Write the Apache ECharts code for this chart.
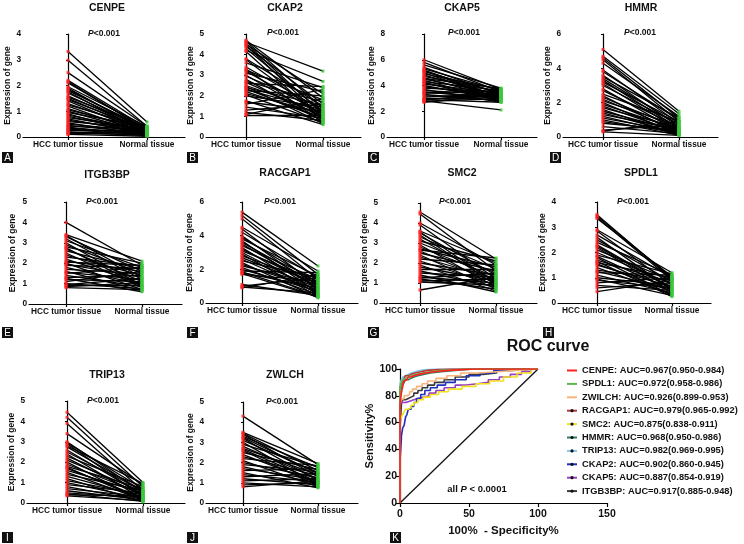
<!DOCTYPE html>
<html><head><meta charset="utf-8">
<script src="https://cdn.jsdelivr.net/npm/echarts@6/dist/echarts.min.js"></script>
<style>html,body{margin:0;padding:0;background:#fff}#c{width:744px;height:544px}</style>
</head><body><div id="c"></div>
<script>
const FONT = '"Liberation Sans", Arial, sans-serif';
const categories = ['HCC tumor tissue', 'Normal tissue'];

// ---- paired expression data (tumor -> normal) ----
const CENPE_tumor = [3.32,2.98,2.50,2.20,2.15,2.10,1.95,1.90,1.85,1.80,1.75,1.70,1.60,1.55,1.50,1.45,1.40,1.30,1.25,1.20,1.10,1.05,1.00,0.95,0.90,0.85,0.80,0.75,0.70,0.65,0.60,0.55,0.50,0.45,0.42,0.38,0.35,0.30,0.28,0.25,0.20,0.18,0.15,0.12,0.10];
const CENPE_normal = [0.58,0.42,0.42,0.35,0.25,0.30,0.40,0.20,0.28,0.35,0.15,0.30,0.25,0.38,0.20,0.30,0.12,0.25,0.35,0.10,0.20,0.30,0.15,0.40,0.05,0.25,0.18,0.30,0.10,0.20,0.35,0.08,0.22,0.15,0.30,0.05,0.12,0.20,0.10,0.25,0.05,0.15,0.08,0.18,0.03];
const CKAP2_tumor = [4.70,4.65,4.60,4.55,4.50,4.45,4.40,4.30,4.20,4.15,3.80,3.75,3.60,3.40,3.30,3.25,3.20,3.10,3.00,2.95,2.80,2.70,2.65,2.60,2.50,2.45,2.40,2.35,2.30,2.25,2.20,2.10,2.05,2.00,1.75,1.70,1.60,1.45,1.30,1.20,1.10,1.05];
const CKAP2_normal = [1.90,1.40,3.20,1.10,2.10,0.90,1.60,1.20,2.70,0.80,1.50,1.00,2.40,1.30,0.70,1.80,1.10,2.20,0.90,1.40,0.75,1.70,1.00,2.45,1.20,0.65,1.55,0.85,1.30,2.00,0.95,1.15,0.70,1.45,0.60,1.25,2.30,0.90,1.60,0.80,1.85,1.05];
const CKAP5_tumor = [6.0,5.8,5.6,5.4,5.3,5.2,5.1,5.0,4.9,4.8,4.7,4.6,4.5,4.4,4.3,4.2,4.1,4.0,3.9,3.8,3.7,3.6,3.5,3.4,3.3,3.2,3.1,3.0,2.95,2.9,2.85,2.8,2.75,2.7,4.55,5.15,3.45,4.25];
const CKAP5_normal = [3.7,3.5,3.8,3.3,3.6,3.1,3.4,2.9,3.7,3.2,3.5,3.0,3.3,2.8,3.6,3.1,3.4,2.9,3.2,3.5,2.7,3.3,3.0,3.6,2.8,3.1,3.4,2.9,3.2,2.7,3.5,2.1,3.0,3.3,3.75,2.95,3.15,2.75];
const HMMR_tumor = [5.1,4.7,4.6,4.5,4.3,3.9,3.8,3.6,3.5,3.4,3.3,3.2,3.1,3.0,2.8,2.7,2.5,2.4,2.3,2.2,2.1,2.0,1.9,1.8,1.7,1.6,1.5,1.4,1.3,1.2,1.1,1.0,0.9,0.8,0.6,0.4,0.35,0.3];
const HMMR_normal = [1.5,1.35,1.1,0.9,1.2,0.8,1.0,0.6,1.1,0.7,0.5,0.9,0.4,0.75,0.3,0.6,0.9,0.2,0.5,0.35,0.65,0.15,0.45,0.25,0.55,0.1,0.35,0.2,0.45,0.15,0.3,0.1,0.25,0.4,0.2,0.7,0.9,0.1];
const ITGB3BP_tumor = [4.0,3.4,3.3,3.2,3.1,3.0,2.9,2.8,2.7,2.6,2.5,2.4,2.3,2.2,2.1,2.0,1.95,1.9,1.8,1.7,1.6,1.55,1.5,1.4,1.3,1.25,1.2,1.1,1.0,0.95,0.9,0.85,0.8,3.35,2.75,2.05];
const ITGB3BP_normal = [1.9,2.1,1.6,1.2,1.8,0.9,1.5,2.0,1.1,1.7,0.8,1.4,1.85,1.0,1.6,0.7,1.3,1.75,0.95,1.5,0.65,1.2,1.8,0.85,1.4,0.6,1.1,1.6,0.75,1.25,0.9,1.05,0.7,1.3,0.85,1.9];
const RACGAP1_tumor = [5.4,5.2,5.0,4.5,4.4,4.2,4.0,3.9,3.8,3.7,3.6,3.5,3.4,3.3,3.2,3.1,3.0,2.9,2.8,2.7,2.6,2.5,2.4,2.3,2.2,2.1,2.0,1.9,1.85,1.8,1.75,1.7,1.1,1.0,0.95,0.9];
const RACGAP1_normal = [2.2,1.7,1.4,1.9,1.0,1.5,0.8,1.2,1.6,0.6,1.1,0.9,1.4,0.5,1.0,1.3,0.7,0.4,1.2,0.9,0.6,1.5,0.3,0.8,1.1,0.5,0.7,1.8,0.4,0.9,0.35,1.3,0.45,1.5,0.6,1.7];
const SMC2_tumor = [4.55,4.45,4.0,3.9,3.6,3.5,3.4,3.3,3.2,3.1,3.0,2.9,2.8,2.7,2.6,2.5,2.4,2.3,2.2,2.1,2.0,1.9,1.8,1.7,1.6,1.5,1.4,1.3,1.25,1.2,1.1,1.05,0.65,3.55,2.65];
const SMC2_normal = [2.2,1.6,1.9,1.2,2.0,1.4,0.9,1.7,1.1,2.1,1.5,0.8,1.3,1.8,1.0,1.6,0.7,1.2,1.9,0.9,1.4,0.6,1.1,1.7,0.8,1.3,0.55,1.0,1.5,0.7,1.2,0.9,1.3,1.0,2.25];
const SPDL1_tumor = [3.5,3.45,3.4,3.35,2.9,2.85,2.7,2.6,2.5,2.4,2.3,2.2,2.1,2.0,1.9,1.85,1.8,1.7,1.6,1.55,1.5,1.4,1.3,1.25,1.2,1.1,1.0,0.95,0.9,0.8,0.7,0.6,0.45,1.65,2.25];
const SPDL1_normal = [0.95,1.0,0.9,1.05,1.2,0.7,1.0,0.5,0.85,1.1,0.6,0.4,0.9,0.75,1.15,0.5,0.3,0.8,1.0,0.45,0.65,0.35,0.9,0.55,1.1,0.4,0.7,0.3,0.6,1.0,0.5,0.8,0.9,0.25,0.55];
const TRIP13_tumor = [4.45,4.2,3.9,3.4,3.0,2.95,2.9,2.8,2.6,2.5,2.4,2.3,2.2,2.1,2.0,1.9,1.8,1.7,1.6,1.5,1.4,1.3,1.2,1.1,1.0,0.9,0.8,0.7,0.6,0.5,0.45,0.4,0.35,2.75,1.75];
const TRIP13_normal = [1.0,0.8,0.6,0.9,0.5,0.7,0.3,0.95,0.4,0.6,0.2,0.8,0.35,0.55,0.1,0.45,0.7,0.25,0.5,0.15,0.6,0.3,0.05,0.4,0.2,0.5,0.1,0.3,0.15,0.25,0.08,0.35,0.12,0.6,0.15];
const ZWLCH_tumor = [4.3,3.5,3.45,3.4,3.3,3.2,3.1,3.0,2.9,2.8,2.7,2.6,2.5,2.4,2.3,2.2,2.1,2.0,1.9,1.8,1.7,1.6,1.5,1.4,1.3,1.2,1.1,1.0,0.9,0.8,3.25,2.65];
const ZWLCH_normal = [1.9,1.95,1.6,1.3,1.75,1.1,1.5,0.9,1.8,1.2,1.4,0.85,1.65,1.0,1.35,1.85,0.8,1.25,1.55,0.95,1.15,1.7,0.75,1.05,1.45,0.9,1.2,0.8,1.0,1.1,1.45,1.05];

// ---- ROC curves (100% - specificity %, sensitivity %) ----
const rocNames = ['CENPE','SPDL1','ZWILCH','RACGAP1','SMC2','HMMR','TRIP13','CKAP2','CKAP5','ITGB3BP'];
const rocAUC = ['AUC=0.967(0.950-0.984)','AUC=0.972(0.958-0.986)','AUC=0.926(0.899-0.953)','AUC=0.979(0.965-0.992)','AUC=0.875(0.838-0.911)','AUC=0.968(0.950-0.986)','AUC=0.982(0.969-0.995)','AUC=0.902(0.860-0.945)','AUC=0.887(0.854-0.919)','AUC=0.917(0.885-0.948)'];
const CENPE_fpr = [0,0,1,1,2,2,3,4,5,6,8,10,14,18,25,35,45,55,100];
const CENPE_tpr = [0,74,74,82,82,87,89,91,92,93,94,95,96,97,98,99,99.5,100,100];
const SPDL1_fpr = [0,0,0.5,1,2,3,4,6,8,12,16,22,30,40,55,100];
const SPDL1_tpr = [0,82,86,88,90,92,93,94,95,96,97,98,99,99.5,100,100];
const ZWILCH_fpr = [0,0,1,2,3,5,7,9,12,16,20,26,34,44,56,70,85,100];
const ZWILCH_tpr = [0,68,74,77,78,80,81,83,85,87,89,91,93,95,97,98,99,100];
const RACGAP1_fpr = [0,0,1,2,3,4,6,8,11,15,20,28,38,100];
const RACGAP1_tpr = [0,80,86,89,91,93,95,96,97,98,99,99.5,100,100];
const SMC2_fpr = [0,0,1,2,3,4,6,8,10,13,17,22,28,35,45,55,65,75,85,95,100];
const SMC2_tpr = [0,58,62,64,66,68,70,71,73,75,77,79,81,83,85,87,89,91,94,97,100];
const HMMR_fpr = [0,0,1,2,3,4,6,8,10,13,17,22,30,40,52,100];
const HMMR_tpr = [0,78,83,86,88,90,92,93,94,95,96,97,98,99,100,100];
const TRIP13_fpr = [0,0,1,2,3,4,6,8,11,15,20,28,100];
const TRIP13_tpr = [0,84,89,92,94,95,96,97,98,99,99.5,100,100];
const CKAP2_fpr = [0,0,1,1,2,3,4,5,6,8,10,12,15,18,22,27,33,40,48,58,68,80,100];
const CKAP2_tpr = [0,31,31,48,50,56,58,64,66,70,72,75,78,81,84,86,88,90,92,95,97,99,100];
const CKAP5_fpr = [0,0,2,4,7,10,13,17,21,26,32,40,48,56,64,72,80,88,95,100];
const CKAP5_tpr = [0,74,75,75,76,77,78,79,80,82,84,86,88,89,90,92,94,96,98,100];
const ITGB3BP_fpr = [0,0,1,1,2,4,6,8,10,13,16,20,25,32,40,50,60,70,80,100];
const ITGB3BP_tpr = [0,56,56,73,75,77,78,79,80,82,84,86,88,90,92,94,96,97,99,100];
const rocTicksX = [0, 50, 100, 150];
const rocTicksY = [0, 20, 40, 60, 80, 100];

// ---- layout (pixels) ----
const panels = [
  {gene:'CENPE',   t:CENPE_tumor,   n:CENPE_normal,   yMax:4, yStep:1, L:23, R:185, T:34,  B:137, hx:68,  nx:147, tx:107, ty:8,   px:104, py:34,  bx:2,   by:152, letter:'A', nameX:13},
  {gene:'CKAP2',   t:CKAP2_tumor,   n:CKAP2_normal,   yMax:5, yStep:1, L:206,R:361, T:34,  B:137, hx:246, nx:323, tx:285, ty:8,   px:283, py:33,  bx:187, by:152, letter:'B', nameX:191},
  {gene:'CKAP5',   t:CKAP5_tumor,   n:CKAP5_normal,   yMax:8, yStep:2, L:387,R:537, T:34,  B:137, hx:424, nx:501, tx:462, ty:8,   px:464, py:33,  bx:368, by:152, letter:'C', nameX:372},
  {gene:'HMMR',    t:HMMR_tumor,    n:HMMR_normal,    yMax:6, yStep:2, L:563,R:718, T:34,  B:137, hx:603, nx:679, tx:641, ty:8,   px:640, py:33,  bx:550, by:152, letter:'D', nameX:549},
  {gene:'ITGB3BP', t:ITGB3BP_tumor, n:ITGB3BP_normal, yMax:5, yStep:1, L:29, R:182, T:202, B:304, hx:66,  nx:142, tx:107, ty:175, px:102, py:202, bx:2,   by:327, letter:'E', nameX:13},
  {gene:'RACGAP1', t:RACGAP1_tumor, n:RACGAP1_normal, yMax:6, yStep:2, L:206,R:358, T:202, B:303, hx:242, nx:318, tx:285, ty:173, px:280, py:202, bx:187, by:327, letter:'F', nameX:190},
  {gene:'SMC2',    t:SMC2_tumor,    n:SMC2_normal,    yMax:5, yStep:1, L:380,R:537, T:203, B:303, hx:420, nx:496, tx:462, ty:173, px:455, py:202, bx:368, by:327, letter:'G', nameX:367},
  {gene:'SPDL1',   t:SPDL1_tumor,   n:SPDL1_normal,   yMax:4, yStep:1, L:558,R:711, T:202, B:303, hx:597, nx:672, tx:641, ty:173, px:633, py:202, bx:543, by:327, letter:'H', nameX:544},
  {gene:'TRIP13',  t:TRIP13_tumor,  n:TRIP13_normal,  yMax:5, yStep:1, L:27, R:185, T:401, B:503, hx:67,  nx:143, tx:107, ty:375, px:103, py:401, bx:2,   by:532, letter:'I', nameX:13},
  {gene:'ZWLCH',   t:ZWLCH_tumor,   n:ZWLCH_normal,   yMax:5, yStep:1, L:206,R:358, T:402, B:503, hx:243, nx:318, tx:285, ty:375, px:282, py:402, bx:187, by:532, letter:'J', nameX:191}
];
const roc = {L:400, R:607, T:369, B:503};
const rocColors = ['#ff2020','#5cb84a','#f8b47a','#b83838','#f2e21e','#2f7f5f','#82c8ee','#1f2fc0','#9a3fc2','#3a3a3a'];
const rocDot = [false,false,false,true,true,true,true,true,true,true];
const rocData = {CENPE:[CENPE_fpr,CENPE_tpr],SPDL1:[SPDL1_fpr,SPDL1_tpr],ZWILCH:[ZWILCH_fpr,ZWILCH_tpr],RACGAP1:[RACGAP1_fpr,RACGAP1_tpr],SMC2:[SMC2_fpr,SMC2_tpr],HMMR:[HMMR_fpr,HMMR_tpr],TRIP13:[TRIP13_fpr,TRIP13_tpr],CKAP2:[CKAP2_fpr,CKAP2_tpr],CKAP5:[CKAP5_fpr,CKAP5_tpr],ITGB3BP:[ITGB3BP_fpr,ITGB3BP_tpr]};

const grid = [], xAxis = [], yAxis = [], series = [], graphic = [];
const axisLineStyle = {color:'#000', width:1.2};
const smallFont = {fontFamily:FONT, fontWeight:'bold', fontSize:8.3, color:'#111'};

panels.forEach((p, i) => {
  grid.push({left:p.L, top:p.T, width:p.R - p.L, height:p.B - p.T, containLabel:false});
  const unit = p.nx - p.hx;
  xAxis.push({
    gridIndex:i, type:'value', min:-(p.hx - p.L) / unit, max:1 + (p.R - p.nx) / unit,
    axisLine:{show:true, onZero:false, lineStyle:axisLineStyle},
    axisTick:{show:true, customValues:[0,1], length:3, lineStyle:axisLineStyle},
    axisLabel:{show:true, customValues:[0,1], margin:4, ...smallFont, formatter:v => categories[Math.round(v)]},
    splitLine:{show:false}
  });
  yAxis.push({
    gridIndex:i, type:'value', min:0, max:p.yMax, interval:p.yStep,
    name:'Expression of gene', nameLocation:'middle', nameRotate:90, nameGap:(p.L - p.nameX) - 4,
    nameTextStyle:{...smallFont, fontSize:8.5},
    axisLine:{show:true, lineStyle:axisLineStyle},
    axisTick:{show:true, length:2, lineStyle:axisLineStyle},
    axisLabel:{margin:2, ...smallFont},
    splitLine:{show:false}
  });
  series.push({
    type:'lines', coordinateSystem:'cartesian2d', xAxisIndex:i, yAxisIndex:i, silent:true,
    lineStyle:{color:'#000', width:1.3, opacity:1}, z:2,
    data:p.t.map((v, k) => ({coords:[[0, v], [1, p.n[k]]]}))
  });
  series.push({
    type:'scatter', xAxisIndex:i, yAxisIndex:i, silent:true, symbol:'rect', symbolSize:3, z:3,
    itemStyle:{color:'#ff2020'}, data:p.t.map(v => [0, v])
  });
  series.push({
    type:'scatter', xAxisIndex:i, yAxisIndex:i, silent:true, symbol:'rect', symbolSize:3, z:3,
    itemStyle:{color:'#3cc83c'}, data:p.n.map(v => [1, v])
  });
  graphic.push({type:'text', x:p.tx, y:p.ty, style:{text:p.gene, align:'center', verticalAlign:'middle', font:`bold 10.5px ${FONT}`, fill:'#111'}});
  graphic.push({type:'text', x:p.px, y:p.py, style:{text:'{i|P}{n|<0.001}', align:'center', verticalAlign:'middle',
    rich:{i:{fontFamily:FONT, fontWeight:'bold', fontStyle:'italic', fontSize:8.5, fill:'#111'}, n:{fontFamily:FONT, fontWeight:'bold', fontSize:8.5, fill:'#111'}}}});
  graphic.push({type:'rect', shape:{x:p.bx, y:p.by, width:11, height:11}, style:{fill:'#111'}});
  graphic.push({type:'text', x:p.bx + 5.5, y:p.by + 6, style:{text:p.letter, align:'center', verticalAlign:'middle', font:`10px ${FONT}`, fill:'#fff'}});
});

// ROC panel
const ri = panels.length;
grid.push({left:roc.L, top:roc.T, width:roc.R - roc.L, height:roc.B - roc.T, containLabel:false});
const rocFont = {fontFamily:FONT, fontWeight:'bold', fontSize:10.5, color:'#111'};
xAxis.push({gridIndex:ri, type:'value', min:rocTicksX[0], max:rocTicksX[rocTicksX.length-1], interval:50,
  name:'100%  - Specificity%', nameLocation:'middle', nameGap:22, nameTextStyle:{fontFamily:FONT, fontWeight:'bold', fontSize:11.5, color:'#111'},
  axisLine:{lineStyle:axisLineStyle}, axisTick:{length:4, lineStyle:axisLineStyle}, axisLabel:{margin:6, ...rocFont}, splitLine:{show:false}});
yAxis.push({gridIndex:ri, type:'value', min:rocTicksY[0], max:rocTicksY[rocTicksY.length-1], interval:20,
  name:'Sensitivity%', nameLocation:'middle', nameRotate:90, nameGap:21, nameTextStyle:{fontFamily:FONT, fontWeight:'bold', fontSize:11, color:'#111'},
  axisLine:{lineStyle:axisLineStyle}, axisTick:{length:4, lineStyle:axisLineStyle}, axisLabel:{margin:3, ...rocFont}, splitLine:{show:false}});
series.push({type:'line', name:'ref', xAxisIndex:ri, yAxisIndex:ri, data:[[0,0],[100,100]], showSymbol:false, symbol:'none', silent:true,
  lineStyle:{color:'#111', width:1.3}, z:2});
const legendData = [];
rocNames.forEach((nm, k) => {
  const [fx, ty] = rocData[nm];
  const label = nm + ': ' + rocAUC[k];
  series.push({type:'line', name:label, xAxisIndex:ri, yAxisIndex:ri, step:'start', showSymbol:false,
    symbol:rocDot[k] ? 'circle' : 'none', silent:true, z:3 + (9 - k),
    lineStyle:{color:rocColors[k], width:1.6}, itemStyle:{color:rocColors[k]},
    data:fx.map((x, j) => [x, ty[j]])});
  legendData.push({name:label, itemStyle: rocDot[k] ? {color:'#111', borderWidth:0} : {color:'rgba(0,0,0,0)', borderWidth:0}, lineStyle:{color:rocColors[k], width:2}});
});
graphic.push({type:'text', x:548, y:347, style:{text:'ROC curve', align:'center', verticalAlign:'middle', font:`bold 16px ${FONT}`, fill:'#111'}});
graphic.push({type:'text', x:477, y:489, style:{text:'{n|all }{i|P}{n| < 0.0001}', align:'center', verticalAlign:'middle',
  rich:{i:{fontFamily:FONT, fontWeight:'bold', fontStyle:'italic', fontSize:9.5, fill:'#111'}, n:{fontFamily:FONT, fontWeight:'bold', fontSize:9.5, fill:'#111'}}}});
graphic.push({type:'rect', shape:{x:390, y:532, width:11, height:11}, style:{fill:'#111'}});
graphic.push({type:'text', x:395.5, y:538, style:{text:'K', align:'center', verticalAlign:'middle', font:`10px ${FONT}`, fill:'#fff'}});

const chart = echarts.init(document.getElementById('c'), null, {renderer:'canvas'});
chart.setOption({
  animation:false,
  backgroundColor:'#fff',
  grid, xAxis, yAxis, series, graphic,
  legend:{data:legendData, orient:'vertical', left:566, top:364.5, padding:0, itemWidth:10, itemHeight:4, itemGap:1.4,
    selectedMode:false, textStyle:{fontFamily:FONT, fontWeight:'bold', fontSize:9.3, color:'#111', lineHeight:12}}
});
</script></body></html>
